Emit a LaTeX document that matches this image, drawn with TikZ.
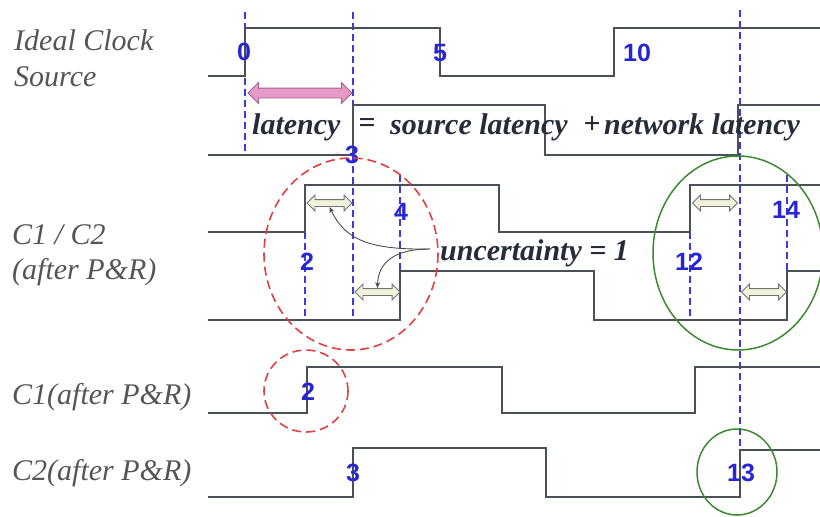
\documentclass[tikz,border=0pt]{standalone}
\usepackage{fontspec}
\setmainfont{Liberation Serif}
\newfontfamily\numfont{Liberation Sans}
\usetikzlibrary{shapes.arrows,arrows.meta}
\definecolor{wavec}{HTML}{4A5058}
\definecolor{dblue}{HTML}{3A3AE0}
\definecolor{numblue}{HTML}{2626D6}
\definecolor{lblc}{HTML}{555555}
\definecolor{txtc}{HTML}{262C3A}
\definecolor{redc}{HTML}{E04040}
\definecolor{greenc}{HTML}{3C8A30}
\definecolor{pinkf}{HTML}{E59AC8}
\definecolor{pinkd}{HTML}{A8608A}
\definecolor{creamf}{HTML}{F2F2DC}
\tikzset{
  wave/.style={draw=wavec, line width=1.5pt},
  guide/.style={draw=dblue, line width=1.1pt, dash pattern=on 7pt off 4pt},
  num/.style={text=numblue, font=\numfont\bfseries\fontsize{25}{27}\selectfont, inner sep=0pt},
  lab/.style={text=lblc, font=\itshape\fontsize{30}{32}\selectfont, anchor=west, inner sep=0pt},
  bigtxt/.style={text=txtc, font=\bfseries\itshape\fontsize{30}{32}\selectfont, inner sep=0pt},
  uarrow/.style={double arrow, draw=black!55, fill=creamf, line width=0.9pt, minimum height=45pt, inner sep=3pt, double arrow head extend=4.5pt},
  parrow/.style={double arrow, draw=pinkd, fill=pinkf, line width=0.9pt, minimum height=104pt, inner sep=4.5pt, double arrow head extend=5.5pt},
  ptr/.style={draw=black!70, line width=0.9pt, -{Stealth[length=6pt,width=5pt]}},
  redring/.style={draw=redc, line width=1.6pt, dash pattern=on 9pt off 5pt},
  greenring/.style={draw=greenc, line width=1.5pt}
}
\begin{document}
\begin{tikzpicture}[x=1pt,y=-1pt]
\useasboundingbox (0,0) rectangle (820,517);
% guides
\draw[guide] (245,12) -- (245,155);
\draw[guide] (353,12) -- (353,320);
\draw[guide] (740,10) -- (740,497);
\draw[guide] (305,232) -- (305,320);
\draw[guide] (400,175) -- (400,270);
\draw[guide] (690,232) -- (690,320);
\draw[guide] (787,175) -- (787,270);
% waveforms
\draw[wave] (208,76) -- (245,76) -- (245,28) -- (440,28) -- (440,76) -- (614,76) -- (614,28) -- (820,28);
\draw[wave] (208,155) -- (353,155) -- (353,105) -- (545,105) -- (545,155) -- (738,155) -- (738,105) -- (820,105);
\draw[wave] (208,232) -- (305,232) -- (305,185) -- (499,185) -- (499,232) -- (690,232) -- (690,185) -- (820,185);
\draw[wave] (208,320) -- (400,320) -- (400,271) -- (594,271) -- (594,320) -- (787,320) -- (787,271) -- (820,271);
\draw[wave] (208,413) -- (307,413) -- (307,367) -- (502,367) -- (502,413) -- (695,413) -- (695,367) -- (820,367);
\draw[wave] (208,497) -- (353,497) -- (353,448) -- (546,448) -- (546,497) -- (740,497) -- (740,450) -- (820,450);
% left labels
\node[lab] (l1) at (14,40) {Ideal Clock};
\node[lab] (l2) at (14,77) {Source};
\node[lab] (l3) at (12,235) {C1 / C2};
\node[lab] (l4) at (12,272) {(after P\&R)};
\node[lab] (l5) at (12,397) {C1(after P\&R)};
\node[lab] (l6) at (12,473) {C2(after P\&R)};
% numbers
\node[num] (n0) at (244,52) {0};
\node[num] (n5) at (440,53) {5};
\node[num] (n10) at (637,53) {10};
\node[num] (n3) at (352,155) {3};
\node[num] (n2) at (307,262) {2};
\node[num] (n4) at (401,212) {4};
\node[num] (n12) at (689,262) {12};
\node[num] (n14) at (786,210) {14};
\node[num] (n2b) at (308,392) {2};
\node[num] (n3b) at (353,473) {3};
\node[num] (n13) at (741,473) {13};
% arrows
\node[parrow] (pa) at (300,93) {};
\node[uarrow] (ua1) at (329.5,203) {};
\node[uarrow] (ua2) at (377.5,292) {};
\node[uarrow] (ua3) at (715,203) {};
\node[uarrow] (ua4) at (764,292) {};
% texts
\node[bigtxt, anchor=west] (lat1) at (252,127) {latency};
\node[bigtxt] (eq) at (367,125) {=};
\node[bigtxt, anchor=west] (lat2) at (390,127) {source latency};
\node[bigtxt] (plus) at (592,125) {+};
\node[bigtxt, anchor=west] (lat3) at (604,127) {network latency};
\node[bigtxt, anchor=west] (unc) at (440,253) {uncertainty = 1};
\coordinate (u) at (430,249);
\draw[ptr] (u) .. controls (370,250) and (345,240) .. (ua1.south);
\draw[ptr] (u) .. controls (395,249) and (378,262) .. (ua2.north);
% rings
\draw[redring] (351,254) ellipse [x radius=87, y radius=96];
\draw[greenring] (738,253) ellipse [x radius=85, y radius=97];
\draw[redring] (306,391) ellipse [x radius=42, y radius=41];
\draw[greenring] (737,472) ellipse [x radius=40, y radius=43];
\end{tikzpicture}
\end{document}
